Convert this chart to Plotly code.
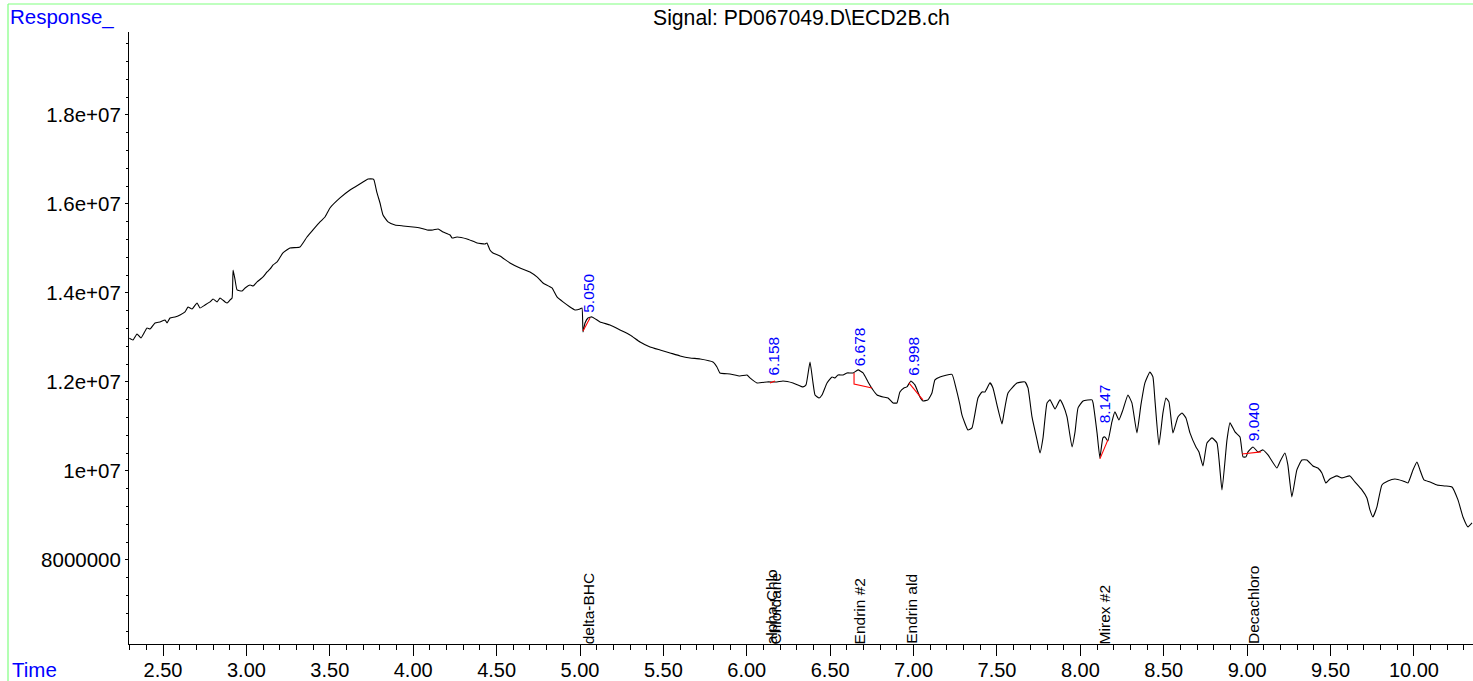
import plotly.graph_objects as go

# ---------------- data ----------------
time_min = [
    2.298, 2.320, 2.344, 2.368, 2.404, 2.422, 2.452, 2.482, 2.512, 2.524, 2.542, 2.572, 2.602,
    2.632, 2.650, 2.674, 2.704, 2.722, 2.752, 2.782, 2.800, 2.824, 2.842, 2.872, 2.884, 2.902,
    2.914, 2.920, 2.932, 2.944, 2.974, 2.992, 3.022, 3.040, 3.064, 3.100, 3.124, 3.142, 3.160,
    3.184, 3.219, 3.261, 3.321, 3.363, 3.399, 3.441, 3.471, 3.501, 3.561, 3.621, 3.651, 3.699,
    3.729, 3.759, 3.765, 3.783, 3.801, 3.819, 3.849, 3.891, 3.939, 3.999, 4.041, 4.083, 4.119,
    4.149, 4.179, 4.221, 4.233, 4.263, 4.323, 4.383, 4.430, 4.442, 4.460, 4.478, 4.520,
    4.580, 4.640, 4.700, 4.742, 4.778, 4.832, 4.862, 4.898, 4.940, 4.970, 5.000, 5.012, 5.018,
    5.030, 5.048, 5.072, 5.120, 5.180, 5.240, 5.300, 5.360, 5.420, 5.480, 5.540, 5.600, 5.660,
    5.720, 5.797, 5.821, 5.839, 5.899, 5.959, 6.001, 6.019, 6.061, 6.121, 6.181, 6.217, 6.277,
    6.337, 6.355, 6.379, 6.397, 6.409, 6.433, 6.451, 6.481, 6.511, 6.529, 6.547, 6.577, 6.601,
    6.637, 6.667, 6.697, 6.727, 6.757, 6.781, 6.817, 6.847, 6.877, 6.900, 6.918, 6.942, 6.960,
    6.984, 7.008, 7.038, 7.056, 7.086, 7.110, 7.128, 7.158, 7.230, 7.254, 7.278, 7.290, 7.326,
    7.350, 7.386, 7.410, 7.428, 7.458, 7.476, 7.500, 7.530, 7.542, 7.566, 7.620, 7.668, 7.686,
    7.710, 7.740, 7.758, 7.776, 7.800, 7.818, 7.848, 7.878, 7.896, 7.920, 7.950, 7.968, 7.986,
    8.016, 8.070, 8.076, 8.100, 8.117, 8.135, 8.147, 8.165, 8.189, 8.207, 8.231, 8.255, 8.285,
    8.309, 8.339, 8.363, 8.387, 8.417, 8.435, 8.447, 8.471, 8.495, 8.513, 8.531, 8.555, 8.585,
    8.609, 8.633, 8.657, 8.693, 8.711, 8.735, 8.759, 8.789, 8.819, 8.849, 8.879, 8.897, 8.927,
    8.957, 8.975, 8.993, 9.005, 9.035, 9.065, 9.095, 9.125, 9.178, 9.196, 9.226, 9.244, 9.268,
    9.298, 9.328, 9.358, 9.394, 9.424, 9.448, 9.472, 9.496, 9.538, 9.568, 9.616, 9.646, 9.688,
    9.718, 9.736, 9.754, 9.778, 9.808, 9.844, 9.886, 9.934, 9.964, 9.994, 10.018, 10.036,
    10.060, 10.096, 10.138, 10.186, 10.228, 10.264, 10.294, 10.324, 10.348,
]
response_millions = [
    12.982, 12.944, 13.079, 12.989, 13.213, 13.191, 13.326, 13.348, 13.393, 13.326, 13.438, 13.461, 13.506,
    13.573, 13.685, 13.640, 13.775, 13.663, 13.730, 13.798, 13.865, 13.798, 13.888, 13.798, 13.775, 13.843,
    13.888, 14.517, 14.292, 14.067, 14.045, 14.112, 14.180, 14.157, 14.247, 14.360, 14.472, 14.539, 14.629,
    14.697, 14.899, 15.011, 15.034, 15.258, 15.416, 15.596, 15.708, 15.910, 16.135, 16.315, 16.382, 16.494,
    16.562, 16.562, 16.539, 16.247, 16.022, 15.753, 15.596, 15.528, 15.506, 15.483, 15.461, 15.416, 15.416,
    15.438, 15.371, 15.303, 15.236, 15.258, 15.213, 15.124, 15.101, 15.124, 14.966, 14.899, 14.831,
    14.674, 14.562, 14.472, 14.360, 14.225, 14.112, 13.910, 13.798, 13.685, 13.618, 13.640, 13.663, 13.124,
    13.326, 13.438, 13.461, 13.348, 13.281, 13.169, 13.056, 12.899, 12.787, 12.719, 12.652, 12.584, 12.539,
    12.517, 12.449, 12.337, 12.202, 12.180, 12.135, 12.157, 12.090, 11.978, 12.000, 12.000, 12.022, 11.978,
    11.888, 11.933, 12.449, 11.978, 11.708, 11.640, 11.708, 11.978, 12.112, 12.090, 12.157, 12.157, 12.202,
    12.202, 12.270, 12.202, 12.000, 11.820, 11.708, 11.663, 11.640, 11.528, 11.528, 11.775, 11.865, 11.888,
    12.022, 11.933, 11.663, 11.573, 11.596, 11.753, 12.045, 12.112, 12.170, 11.865, 11.483, 11.258, 10.921,
    10.966, 11.640, 11.775, 11.775, 11.978, 11.865, 11.483, 11.056, 11.303, 11.753, 11.978, 12.000, 11.865,
    11.213, 10.697, 10.404, 10.742, 11.528, 11.596, 11.393, 11.596, 11.483, 11.213, 10.539, 10.876, 11.416,
    11.573, 11.596, 11.528, 10.854, 10.292, 10.742, 10.764, 10.674, 11.101, 11.326, 11.146, 11.371, 11.708,
    11.528, 10.854, 11.483, 11.978, 12.225, 12.112, 11.596, 10.584, 11.303, 11.640, 11.551, 10.854, 11.213,
    11.303, 11.191, 10.854, 10.539, 10.427, 10.112, 10.629, 10.742, 10.629, 9.573, 10.697, 11.079, 10.876,
    10.764, 10.315, 10.315, 10.427, 10.539, 10.427, 10.472, 10.360, 10.067, 10.202, 10.404, 10.135, 9.416,
    10.022, 10.247, 10.247, 10.112, 10.067, 9.955, 9.730, 9.820, 9.888, 9.843, 9.888, 9.753, 9.573,
    9.393, 9.124, 8.966, 9.191, 9.685, 9.775, 9.820, 9.775, 9.730, 10.022, 10.202, 10.022,
    9.798, 9.753, 9.685, 9.663, 9.640, 9.348, 8.966, 8.742, 8.831,
]

# integrated peaks: retention time label, label base (response, millions)
peak_rt_labels = ["5.050", "6.158", "6.678", "6.998", "8.147", "9.040"]
peak_rt = [5.050, 6.158, 6.678, 6.998, 8.147, 9.040]
peak_label_base_millions = [13.573, 12.157, 12.382, 12.157, 11.101, 10.697]

# integration baselines (red), one polyline per peak
baseline_times = [
    [5.018, 5.060],
    [6.139, 6.169],
    [6.643, 6.643, 6.751],
    [6.972, 7.056],
    [8.117, 8.165],
    [8.969, 9.083],
]
baseline_millions = [
    [13.146, 13.438],
    [11.978, 12.022],
    [12.202, 11.955, 11.865],
    [11.978, 11.596],
    [10.270, 10.697],
    [10.382, 10.427],
]

# compound names along the time axis
compound_names = ["delta-BHC", "alpha-Chlo", "Chlordane", "Endrin #2", "Endrin ald", "Mirex #2", "Decachloro"]
compound_times = [5.050, 6.150, 6.172, 6.675, 6.983, 8.147, 9.035]

x_tick_vals = [2.5, 3.0, 3.5, 4.0, 4.5, 5.0, 5.5, 6.0, 6.5, 7.0, 7.5, 8.0, 8.5, 9.0, 9.5, 10.0]
x_tick_text = ["2.50", "3.00", "3.50", "4.00", "4.50", "5.00", "5.50", "6.00", "6.50", "7.00",
               "7.50", "8.00", "8.50", "9.00", "9.50", "10.00"]
y_tick_vals = [8e6, 1e7, 1.2e7, 1.4e7, 1.6e7, 1.8e7]
y_tick_text = ["8000000", "1e+07", "1.2e+07", "1.4e+07", "1.6e+07", "1.8e+07"]

title_text = "Signal: PD067049.D\\ECD2B.ch"

# ---------------- figure ----------------
M = 1e6
FONT = "Liberation Sans, Arial, sans-serif"
W, H = 1473, 681
L, R, T, B = 129, 0, 32, 37
pw, ph = W - L - R, H - T - B

fig = go.Figure()
fig.add_trace(go.Scatter(
    x=time_min, y=[v * M for v in response_millions], mode="lines",
    line=dict(color="black", width=1.1, shape="spline", smoothing=0.4),
    hoverinfo="skip", showlegend=False))

for bt, bv in zip(baseline_times, baseline_millions):
    fig.add_trace(go.Scatter(
        x=bt, y=[v * M for v in bv], mode="lines",
        line=dict(color="red", width=1.1), hoverinfo="skip", showlegend=False))

annotations = []
for lab, rt, base in zip(peak_rt_labels, peak_rt, peak_label_base_millions):
    annotations.append(dict(
        x=rt, y=base * M, xref="x", yref="y", text=lab, showarrow=False,
        textangle=-90, xanchor="center", yanchor="bottom", yshift=-3,
        font=dict(family=FONT, size=15.5, color="#0000ff")))
for name, t in zip(compound_names, compound_times):
    annotations.append(dict(
        x=t, y=0, xref="x", yref="paper", text=name, showarrow=False,
        textangle=-90, xanchor="center", yanchor="bottom", yshift=-2,
        font=dict(family=FONT, size=15.5, color="black")))

annotations.append(dict(
    x=(8 - L) / pw, y=1 + (T - 17) / ph, xref="paper", yref="paper", text="Response_",
    showarrow=False, xanchor="left", yanchor="middle",
    font=dict(family=FONT, size=20.5, color="#0000ff")))
annotations.append(dict(
    x=(10 - L) / pw, y=-(669 - (H - B)) / ph, xref="paper", yref="paper", text="Time",
    showarrow=False, xanchor="left", yanchor="middle",
    font=dict(family=FONT, size=20.5, color="#0000ff")))
annotations.append(dict(
    x=(801 - L) / pw, y=1 + (T - 18) / ph, xref="paper", yref="paper", text=title_text,
    showarrow=False, xanchor="center", yanchor="middle",
    font=dict(family=FONT, size=21.2, color="black")))

shapes = [
    dict(type="line", xref="paper", yref="paper", x0=(8 - L) / pw, x1=1.01,
         y0=1 + (T - 4) / ph, y1=1 + (T - 4) / ph, line=dict(color="#80ff80", width=1.2)),
    dict(type="line", xref="paper", yref="paper", x0=(8 - L) / pw, x1=(8 - L) / pw,
         y0=-0.1, y1=1 + (T - 4) / ph, line=dict(color="#80ff80", width=1.2)),
]

fig.update_layout(
    width=W, height=H, autosize=False,
    margin=dict(l=L, r=R, t=T, b=B, pad=0, autoexpand=False),
    paper_bgcolor="white", plot_bgcolor="white",
    annotations=annotations, shapes=shapes,
    font=dict(family=FONT, size=20.5, color="black"),
    xaxis=dict(
        range=[2.296, 10.354], showgrid=False, zeroline=False, automargin=False,
        showline=True, linecolor="black", linewidth=1,
        tickmode="array", tickvals=x_tick_vals, ticktext=x_tick_text,
        ticks="outside", ticklen=11, tickcolor="black", tickwidth=1,
        ticklabelstandoff=-3,
        tickfont=dict(family=FONT, size=20, color="black"),
        minor=dict(dtick=0.1, tick0=0, ticks="outside", ticklen=5, tickcolor="black", tickwidth=1),
    ),
    yaxis=dict(
        range=[6.11e6, 1.9865e7], showgrid=False, zeroline=False, automargin=False,
        showline=True, linecolor="black", linewidth=1,
        tickmode="array", tickvals=y_tick_vals, ticktext=y_tick_text,
        ticks="outside", ticklen=3, tickcolor="black", tickwidth=1,
        tickfont=dict(family=FONT, size=20.5, color="black"),
        minor=dict(dtick=4e5, tick0=0, ticks="outside", ticklen=2, tickcolor="black", tickwidth=1),
    ),
)

fig.write_html(
    "out.html",
    config={"displayModeBar": False},
    post_script="document.body.style.margin='0';document.body.style.overflow='hidden';",
)
